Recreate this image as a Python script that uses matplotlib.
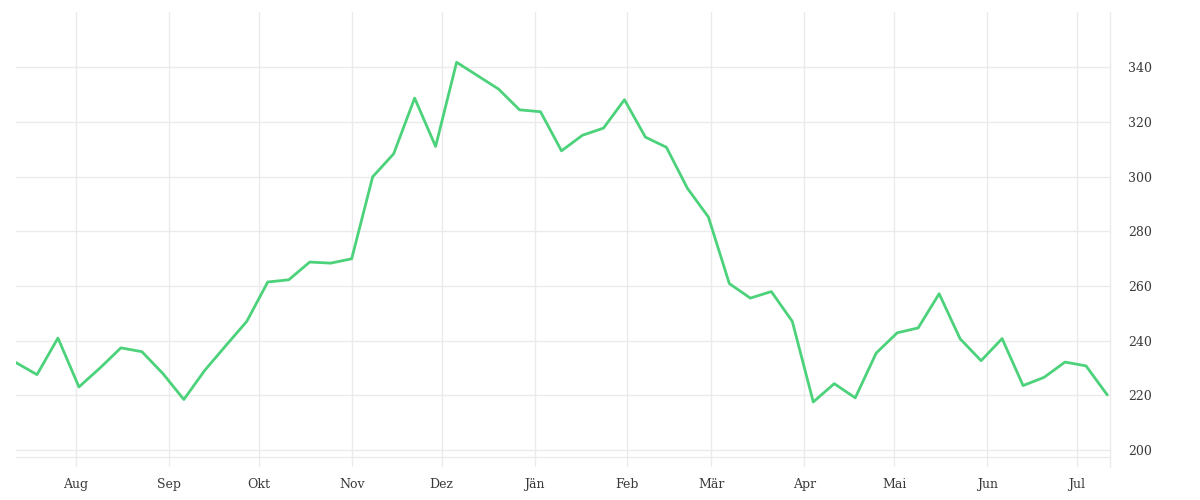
import datetime as dt

import matplotlib
matplotlib.use('Agg')
import matplotlib.pyplot as plt
import numpy as np

# weekly values
start = dt.date(2021, 7, 12)
values = [232.0, 227.6, 241.0, 223.1, 230.0, 237.4, 236.0, 228.0, 218.5, 229.2,
          238.2, 247.1, 261.5, 262.3, 268.8, 268.4, 270.0, 300.0, 308.4, 328.8,
          311.1, 341.9, 337.0, 332.1, 324.5, 323.8, 309.5, 315.2, 317.8, 328.2,
          314.5, 310.8, 295.8, 285.3, 260.9, 255.6, 258.0, 247.1, 217.6, 224.3,
          219.1, 235.5, 242.9, 244.7, 257.2, 240.7, 232.7, 240.8, 223.6, 226.6,
          232.2, 230.8, 220.3]
dates = [start + dt.timedelta(weeks=i) for i in range(len(values))]

month_starts = [dt.date(2021, m, 1) for m in range(8, 13)] + \
               [dt.date(2022, m, 1) for m in range(1, 8)]
month_labels = ['Aug', 'Sep', 'Okt', 'Nov', 'Dez', 'Jän', 'Feb', 'Mär',
                'Apr', 'Mai', 'Jun', 'Jul']
y_ticks = [200, 220, 240, 260, 280, 300, 320, 340]

plt.rcParams['font.family'] = ['DejaVu Serif']

fig = plt.figure(figsize=(12, 5), dpi=100)
ax = fig.add_axes([16 / 1200, 1 - 467 / 500, (1110 - 16) / 1200, (467 - 12) / 500])

grid_col = '#ebebeb'
ax.plot(dates, values, color='#4cd27a', linewidth=2.0, zorder=3)

ax.set_xlim(dates[0], dates[-1] + dt.timedelta(days=1.4))
ax.set_ylim(193.8, 360.3)

ax.set_xticks(month_starts)
ax.set_xticklabels(month_labels)
ax.set_yticks(y_ticks)
ax.yaxis.tick_right()
ax.grid(True, color=grid_col, linewidth=1.0)
ax.axhline(197.3, color=grid_col, linewidth=1.0)
ax.set_axisbelow(True)

for side in ['top', 'left', 'bottom']:
    ax.spines[side].set_visible(False)
ax.spines['right'].set_color(grid_col)
ax.spines['right'].set_linewidth(1.0)

ax.tick_params(axis='both', length=0, labelsize=9, labelcolor='#3a3a3a')
ax.tick_params(axis='y', pad=13)
ax.tick_params(axis='x', pad=8)

fig.savefig('out.png', dpi=100)
